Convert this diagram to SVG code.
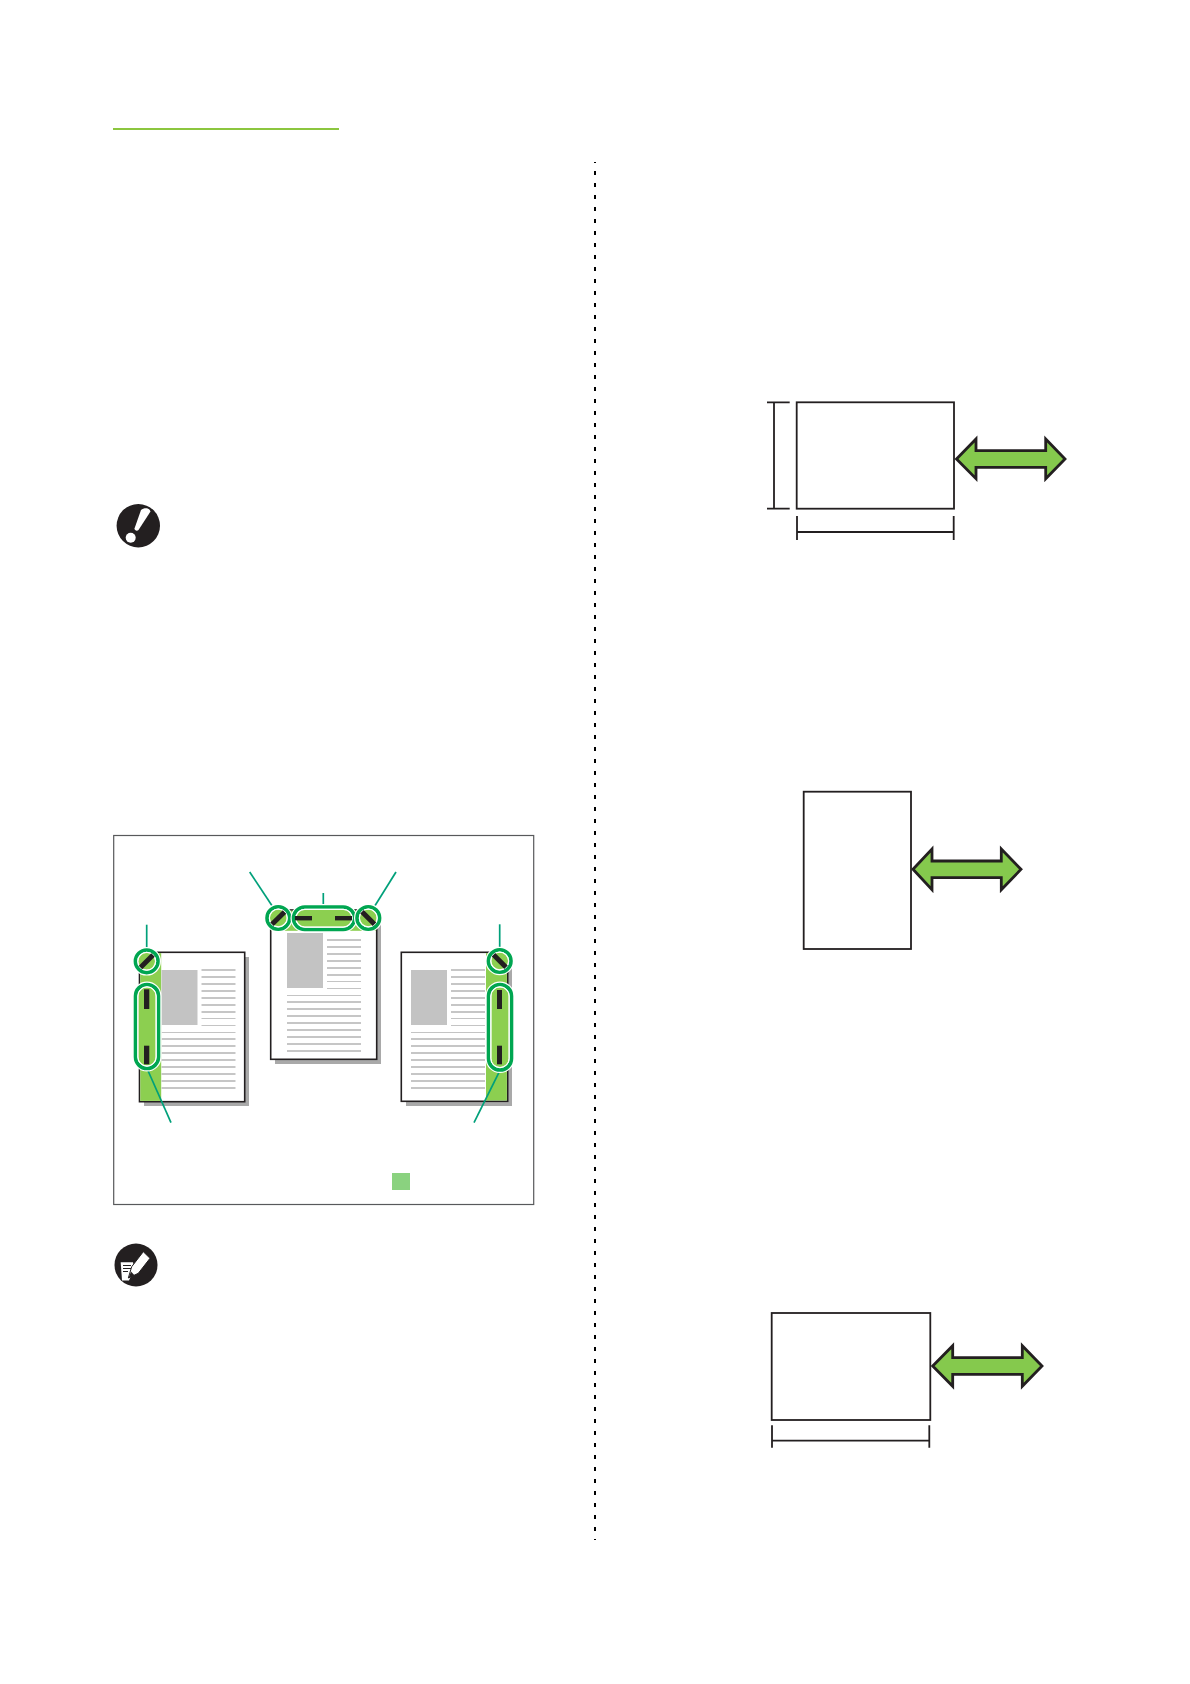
<svg xmlns="http://www.w3.org/2000/svg" width="1190" height="1684" viewBox="0 0 1190 1684">
<style>
.page{fill:#fff;stroke:#231f20;stroke-width:1.6}
.shadow{fill:#a9a9a9}
.strip{fill:#8ccf50}
.gray{fill:#c3c3c3}
.t{stroke:#b4b4b4;stroke-width:1.7;fill:none}
.thin{stroke:#c4c4c4;stroke-width:1;fill:none}
.fillr{fill:#8ccf50;stroke:#fff;stroke-width:6}
.ring{fill:none;stroke:#00a651;stroke-width:3.600}
.inner{fill:none;stroke:#fff;stroke-width:1}
.bar{fill:#231f20}
.slash{stroke:#231f20;stroke-width:5;fill:none}
.lead{stroke:#00a07a;stroke-width:1.700;fill:none}
.box{fill:#fff;stroke:#231f20;stroke-width:1.800}
.dim{stroke:#231f20;stroke-width:1.800;fill:none}
.arrow{fill:#85c94d;stroke:#231f20;stroke-width:2.800;stroke-miterlimit:8}
</style>
<defs>
<g id="textLines">
<path class="t" d="M40 25H74M40 32H74M40 39H74M40 46H74M40 53H74M40 60H74"/>
<path class="thin" d="M40 66.500H74M40 73.500H74M0 80.500H74"/>
<path class="t" d="M0 87H74M0 94H74M0 101H74M0 108H74M0 115H74M0 122H74M0 129H74M0 136H74"/>
<rect class="gray" x="0" y="18" width="36" height="55"/>
</g>
<path id="firstLine" class="t" d="M40 18H74"/>
</defs>
<rect width="1190" height="1684" fill="#fff"/>
<rect id="heading-rule" x="113" y="128" width="226" height="2" fill="#8cc63f"/>
<path id="divider" d="M595 162V1540" stroke="#000" stroke-width="2" stroke-dasharray="4 8" stroke-dashoffset="3" fill="none"/>

<g id="important-icon">
<circle cx="138.300" cy="525.700" r="21.700" fill="#231f20"/>
<path d="M141 510C144 507.500 149.500 507.500 150.500 511.500L138.500 530C137 531.500 134.500 530.500 134.500 528.500Z" fill="#fff"/>
<circle cx="130.700" cy="537.700" r="5" fill="#fff"/>
</g>

<g id="binding-frame">
<rect x="113.700" y="835.500" width="420" height="369" fill="#fff" stroke="#58595b" stroke-width="1.200"/>
</g>
<g id="page-left">
<rect class="shadow" x="144" y="957" width="105" height="149"/>
<rect class="page" x="139.500" y="952.300" width="105.200" height="149.400"/>
<rect class="strip" x="140.300" y="953.100" width="20.900" height="147.800"/>
<use href="#textLines" x="161.500" y="952"/>
<use href="#firstLine" x="161.500" y="952"/>
</g>
<g id="page-top">
<rect class="shadow" x="275" y="915" width="106" height="149"/>
<rect class="page" x="270.700" y="910" width="106" height="149.300"/>
<rect class="strip" x="271.500" y="910.800" width="104.400" height="20"/>
<use href="#textLines" x="287" y="915"/>
</g>
<g id="page-right">
<rect class="shadow" x="406" y="957" width="106" height="149"/>
<rect class="page" x="401.300" y="952.300" width="106.400" height="149"/>
<rect class="strip" x="486" y="953.100" width="20.900" height="147.400"/>
<use href="#textLines" x="411" y="952"/>
<use href="#firstLine" x="411" y="952"/>
</g>

<g id="connectors">
<path class="lead" d="M146.700 924.700V949"/>
<path class="lead" d="M171 1122.700L147.700 1070"/>
<path class="lead" d="M249.700 872L272.700 906.700"/>
<path class="lead" d="M323.300 893V906"/>
<path class="lead" d="M396 872L374.300 906.700"/>
<path class="lead" d="M499.700 924.300V949"/>
<path class="lead" d="M474 1122.700L499 1072.300"/>
</g>

<g id="marks-left">
<circle class="fillr" cx="146.700" cy="961.300" r="11.300"/>
<circle class="ring" cx="146.700" cy="961.300" r="11.300"/>
<circle class="inner" cx="146.700" cy="961.300" r="9"/>
<path class="slash" d="M140.500 967.500L153 955"/>
<rect class="fillr" x="135.500" y="984.500" width="23" height="84" rx="11.500"/>
<rect class="ring" x="135.500" y="984.500" width="23" height="84" rx="11.500"/>
<rect class="inner" x="137.800" y="986.800" width="18.400" height="79.400" rx="9.200"/>
<rect class="bar" x="144" y="989.300" width="5.300" height="19.700"/>
<rect class="bar" x="144" y="1045.700" width="5.300" height="18.600"/>
</g>
<g id="marks-top">
<circle class="fillr" cx="278.300" cy="918" r="11.300"/>
<circle class="ring" cx="278.300" cy="918" r="11.300"/>
<circle class="inner" cx="278.300" cy="918" r="9"/>
<path class="slash" d="M272 924.300L284.500 912"/>
<rect class="fillr" x="293.500" y="907" width="61" height="22.500" rx="11.250"/>
<rect class="ring" x="293.500" y="907" width="61" height="22.500" rx="11.250"/>
<rect class="inner" x="295.800" y="909.300" width="56.400" height="17.900" rx="8.950"/>
<rect class="bar" x="295" y="916" width="17" height="4.400"/>
<rect class="bar" x="335" y="916" width="17" height="4.400"/>
<circle class="fillr" cx="368.300" cy="918" r="11.300"/>
<circle class="ring" cx="368.300" cy="918" r="11.300"/>
<circle class="inner" cx="368.300" cy="918" r="9"/>
<path class="slash" d="M362 911.700L374.500 924.300"/>
</g>
<g id="marks-right">
<circle class="fillr" cx="499.700" cy="961" r="11.300"/>
<circle class="ring" cx="499.700" cy="961" r="11.300"/>
<circle class="inner" cx="499.700" cy="961" r="9"/>
<path class="slash" d="M493.500 954.800L506 967.300"/>
<rect class="fillr" x="488.500" y="984.500" width="23" height="85.500" rx="11.500"/>
<rect class="ring" x="488.500" y="984.500" width="23" height="85.500" rx="11.500"/>
<rect class="inner" x="490.800" y="986.800" width="18.400" height="80.900" rx="9.200"/>
<rect class="bar" x="497" y="990" width="5" height="19"/>
<rect class="bar" x="497" y="1045.700" width="5" height="18.600"/>
</g>
<rect id="legend-swatch" x="392" y="1173" width="18" height="17" fill="#8ad27f"/>

<g id="note-icon">
<circle cx="136" cy="1265" r="21.500" fill="#231f20"/>
<path d="M120.700 1262.300H133L134.500 1268L129 1280.500H122Z" fill="#fff"/>
<path d="M123 1265.500H131M123 1268.500H131M123 1271.500H128" stroke="#231f20" stroke-width="1"/>
<path d="M143.300 1251.700L150 1258.300L138.300 1273.300L128.300 1278L131.700 1266.700Z" fill="#fff" stroke="#231f20" stroke-width="1"/>
<path d="M128.500 1278L131 1271.500L134.500 1275.300Z" fill="#231f20"/>
</g>

<g id="sheet-landscape-a">
<rect class="box" x="796.700" y="402.300" width="157.300" height="106.400"/>
<path class="dim" d="M774 402.300V508.700M767 402.300H789.700M767 508.700H789.700"/>
<path class="dim" d="M797 532H953.700M797 516V540M953.700 516V540"/>
<path class="arrow" d="M956.500 459L976 439V450.700H1045.700V439L1065 459L1045.700 478.700V467.300H976V478.700Z"/>
</g>
<g id="sheet-portrait">
<rect class="box" x="803.700" y="791.700" width="107.300" height="157.300"/>
<path class="arrow" d="M913 869.300L932 849V861H1001.300V849L1021 869.300L1001.300 889.700V877.700H932V889.700Z"/>
</g>
<g id="sheet-landscape-b">
<rect class="box" x="771.700" y="1313" width="158.600" height="107"/>
<path class="dim" d="M772 1440.700H929.300M772 1425.300V1447.700M929.300 1425.300V1447.700"/>
<path class="arrow" d="M932.700 1366L952.700 1345.700V1357.700H1022.300V1345.700L1042 1366L1022.300 1386.300V1374.300H952.700V1386.300Z"/>
</g>
</svg>
